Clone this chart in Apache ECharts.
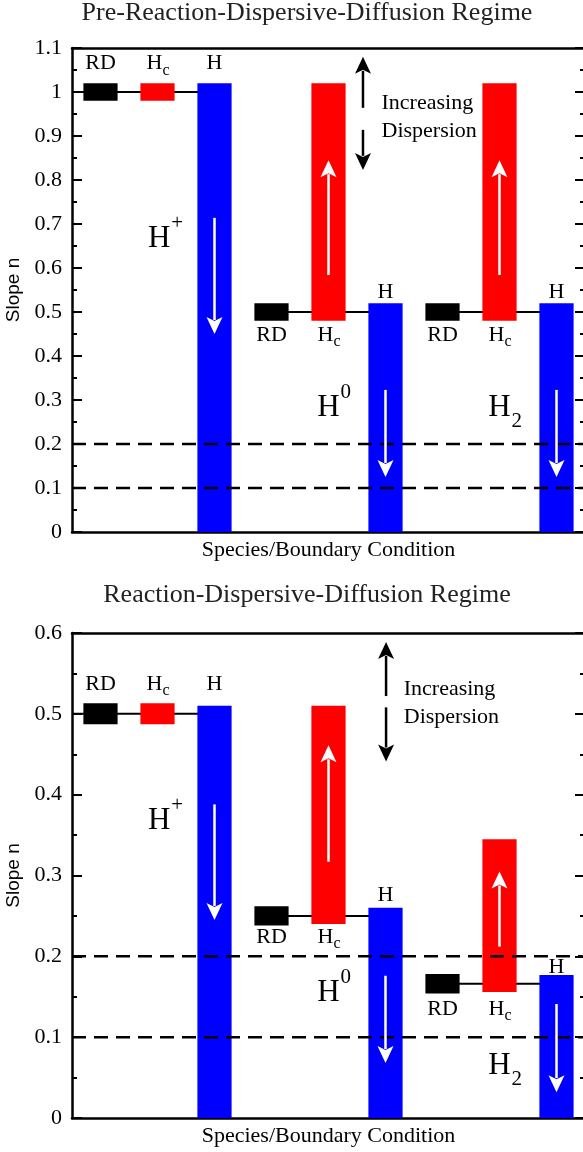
<!DOCTYPE html>
<html><head><meta charset="utf-8">
<script src="https://cdn.jsdelivr.net/npm/echarts@6/dist/echarts.min.js"></script>
<style>html,body{margin:0;padding:0;overflow:hidden;background:#fff}#c{width:600px;height:1152px}</style>
</head><body><div id="c"></div>
<script>
const FONT = 'Liberation Serif';
const categories = ['RD','Hc','H','RD','Hc','H','RD','Hc','H'];
// top panel: Pre-Reaction-Dispersive-Diffusion Regime
const topLow  = [0.98, 0.98, 0,    0.48, 0.48, 0,    0.48, 0.48, 0];
const topHigh = [1.02, 1.02, 1.02, 0.52, 1.02, 0.52, 0.52, 1.02, 0.52];
// bottom panel: Reaction-Dispersive-Diffusion Regime
const botLow  = [0.487, 0.487, 0,    0.238, 0.24, 0,    0.154, 0.156, 0];
const botHigh = [0.513, 0.513, 0.51, 0.262, 0.51, 0.26, 0.178, 0.345, 0.177];
// connector lines [xStart, xEnd, y]
const topConnectors = [[-0.5, 2, 1.0], [3, 5, 0.5], [6, 8, 0.5]];
const botConnectors = [[-0.5, 2, 0.5], [3, 5, 0.25], [6, 8, 0.166]];
const dashedLevels = [0.2, 0.1];
// arrows [x, from, to]
const topArrows = [[2, 0.714, 0.45], [4, 0.584, 0.845], [5, 0.323, 0.125], [7, 0.584, 0.845], [8, 0.323, 0.125], [4.605, 0.964, 1.08], [4.605, 0.914, 0.823]];
const topArrowInk = ['w','w','w','w','w','k','k'];
const botArrows = [[2, 0.388, 0.245], [4, 0.317, 0.461], [5, 0.176, 0.068], [7, 0.212, 0.305], [8, 0.141, 0.032], [5.01, 0.522, 0.589], [5.01, 0.508, 0.441]];
const botArrowInk = ['w','w','w','w','w','k','k'];
// labels [x, y, main, script, scriptType, kind]
const topLabels = [
  [0, 1.065, 'RD', '', '', 's'], [1, 1.065, 'H', 'c', 'sub', 's'], [2, 1.065, 'H', '', '', 's'],
  [3, 0.448, 'RD', '', '', 's'], [4, 0.448, 'H', 'c', 'sub', 's'], [5, 0.545, 'H', '', '', 's'],
  [6, 0.448, 'RD', '', '', 's'], [7, 0.448, 'H', 'c', 'sub', 's'], [8, 0.545, 'H', '', '', 's'],
  [1.03, 0.666, 'H', '+', 'sup', 'b'], [4.0, 0.282, 'H', '0', 'sup', 'b'], [7.0, 0.282, 'H', '2', 'sub', 'b'],
  [4.93, 0.975, 'Increasing', '', '', 'n'], [4.93, 0.911, 'Dispersion', '', '', 'n']
];
const botLabels = [
  [0, 0.537, 'RD', '', '', 's'], [1, 0.537, 'H', 'c', 'sub', 's'], [2, 0.537, 'H', '', '', 's'],
  [3, 0.224, 'RD', '', '', 's'], [4, 0.224, 'H', 'c', 'sub', 's'], [5, 0.276, 'H', '', '', 's'],
  [6, 0.135, 'RD', '', '', 's'], [7, 0.135, 'H', 'c', 'sub', 's'], [8, 0.187, 'H', '', '', 's'],
  [1.03, 0.368, 'H', '+', 'sup', 'b'], [4.0, 0.155, 'H', '0', 'sup', 'b'], [7.0, 0.065, 'H', '2', 'sub', 'b'],
  [5.32, 0.530, 'Increasing', '', '', 'n'], [5.32, 0.496, 'Dispersion', '', '', 'n']
];
const titles = ['Pre-Reaction-Dispersive-Diffusion Regime', 'Reaction-Dispersive-Diffusion Regime'];
const yMax = [1.1, 0.6];

const kindColor = {RD: '#000000', Hc: '#ff0000', H: '#0000ff'};
const inkColor = {w: '#ffffff', k: '#000000'};

function barRender(params, api) {
  const x = api.value(0), lo = api.value(1), hi = api.value(2);
  const a = api.coord([x, hi]), b = api.coord([x, lo]);
  const w = api.size([1, 0])[0] * 0.6;
  return {type: 'rect', shape: {x: a[0] - w / 2, y: a[1], width: w, height: b[1] - a[1]},
    style: {fill: kindColor[categories[params.dataIndex]]}};
}
function connRender(params, api) {
  const a = api.coord([api.value(0), api.value(2)]), b = api.coord([api.value(1), api.value(2)]);
  return {type: 'line', shape: {x1: a[0], y1: a[1], x2: b[0], y2: b[1]}, style: {stroke: '#000', lineWidth: 2}};
}
function dashRender(params, api) {
  const a = api.coord([-0.5, api.value(0)]), b = api.coord([8.5, api.value(0)]);
  return {type: 'line', shape: {x1: a[0], y1: a[1], x2: b[0], y2: b[1]},
    style: {stroke: '#000', lineWidth: 2.5, lineDash: [14, 8]}};
}
function arrowRender(inks) {
  return function (params, api) {
    const x = api.value(0);
    const a = api.coord([x, api.value(1)]), b = api.coord([x, api.value(2)]);
    const dir = b[1] > a[1] ? 1 : -1;
    const hl = 17, hw = 8;
    const base = b[1] - dir * hl;
    const col = inkColor[inks[params.dataIndex]];
    return {type: 'group', children: [
      {type: 'line', shape: {x1: a[0], y1: a[1], x2: a[0], y2: base + dir * 3}, style: {stroke: col, lineWidth: 2.5}},
      {type: 'polygon', shape: {points: [[b[0], b[1]], [b[0] - hw, base], [b[0], base + dir * 4], [b[0] + hw, base]]},
        style: {fill: col}}
    ]};
  };
}
function labelRender(labels) {
  return function (params, api) {
    const L = labels[params.dataIndex];
    const p = api.coord([api.value(0), api.value(1)]);
    const kind = L[5];
    const children = [];
    if (kind === 'n') {
      children.push({type: 'text', x: p[0], y: p[1], style: {text: L[2], fontFamily: FONT, fontSize: 22, fill: '#000', align: 'left', verticalAlign: 'middle'}});
    } else if (kind === 's') {
      const hasSub = L[3] !== '';
      children.push({type: 'text', x: p[0] - (hasSub ? 3 : 0), y: p[1], style: {text: L[2], fontFamily: FONT, fontSize: 22, fill: '#000', align: 'center', verticalAlign: 'middle'}});
      if (hasSub) children.push({type: 'text', x: p[0] + 5, y: p[1] + 7, style: {text: L[3], fontFamily: FONT, fontSize: 16, fill: '#000', align: 'left', verticalAlign: 'middle'}});
    } else {
      children.push({type: 'text', x: p[0], y: p[1], style: {text: L[2], fontFamily: FONT, fontSize: 31, fill: '#000', align: 'center', verticalAlign: 'middle'}});
      children.push({type: 'text', x: p[0] + 12, y: p[1] + (L[4] === 'sup' ? -15 : 14), style: {text: L[3], fontFamily: FONT, fontSize: 21, fill: '#000', align: 'left', verticalAlign: 'middle'}});
    }
    return {type: 'group', children};
  };
}

const grids = [
  {left: 72, right: 15, top: 48, height: 484, outerBoundsMode: 'none', containLabel: false},
  {left: 72, right: 15, top: 633, height: 485, outerBoundsMode: 'none', containLabel: false}
];
const xAxes = [], yAxes = [], series = [];
const lineBlack = {show: true, onZero: false, lineStyle: {color: '#000', width: 2.5}};
for (let g = 0; g < 2; g++) {
  xAxes.push({gridIndex: g, type: 'value', min: -0.5, max: 8.5, position: 'bottom', axisLine: lineBlack,
    axisTick: {show: false}, axisLabel: {show: false}, splitLine: {show: false},
    name: 'Species/Boundary Condition', nameLocation: 'middle', nameGap: 7,
    nameTextStyle: {fontFamily: FONT, fontSize: 22, color: '#000'}});
  xAxes.push({gridIndex: g, type: 'value', min: -0.5, max: 8.5, position: 'top', axisLine: lineBlack,
    axisTick: {show: false}, axisLabel: {show: false}, splitLine: {show: false}});
  const yCommon = {gridIndex: g, type: 'value', min: 0, max: yMax[g], interval: 0.1,
    axisLine: lineBlack, splitLine: {show: false}, minorSplitLine: {show: false},
    axisTick: {show: true, inside: true, length: 10, lineStyle: {color: '#000', width: 2}},
    minorTick: {show: true, splitNumber: 2, length: 5, lineStyle: {color: '#000', width: 2}}};
  yAxes.push(Object.assign({}, yCommon, {position: 'left',
    axisLabel: {fontFamily: FONT, fontSize: 22, color: '#000', margin: 10},
    name: 'Slope n', nameLocation: 'middle', nameGap: 46,
    nameTextStyle: {fontFamily: 'Liberation Sans', fontSize: 19, color: '#000'}}));
  yAxes.push(Object.assign({}, yCommon, {position: 'right', axisLabel: {show: false}}));
  const xi = g * 2, yi = g * 2;
  const low = g === 0 ? topLow : botLow, high = g === 0 ? topHigh : botHigh;
  const conns = g === 0 ? topConnectors : botConnectors;
  const arrows = g === 0 ? topArrows : botArrows;
  const inks = g === 0 ? topArrowInk : botArrowInk;
  const labels = g === 0 ? topLabels : botLabels;
  series.push({type: 'custom', xAxisIndex: xi, yAxisIndex: yi, z: 1, renderItem: connRender, data: conns, silent: true});
  series.push({type: 'custom', xAxisIndex: xi, yAxisIndex: yi, z: 2, renderItem: barRender,
    data: categories.map((c, i) => [i, low[i], high[i]]), silent: true});
  series.push({type: 'custom', xAxisIndex: xi, yAxisIndex: yi, z: 3, renderItem: dashRender,
    data: dashedLevels.map(v => [v]), silent: true});
  series.push({type: 'custom', xAxisIndex: xi, yAxisIndex: yi, z: 4, renderItem: arrowRender(inks), data: arrows, silent: true, clip: false});
  series.push({type: 'custom', xAxisIndex: xi, yAxisIndex: yi, z: 5, renderItem: labelRender(labels),
    data: labels.map(l => [l[0], l[1]]), silent: true, clip: false});
}

const chart = echarts.init(document.getElementById('c'));
chart.setOption({
  animation: false,
  backgroundColor: '#fff',
  title: titles.map((t, i) => ({text: t, left: 307, top: i === 0 ? 0 : 582, textAlign: 'center', padding: 0,
    textStyle: {fontFamily: FONT, fontSize: 26, fontWeight: 'normal', color: '#222'}})),
  grid: grids,
  xAxis: xAxes,
  yAxis: yAxes,
  series: series
});
</script></body></html>
